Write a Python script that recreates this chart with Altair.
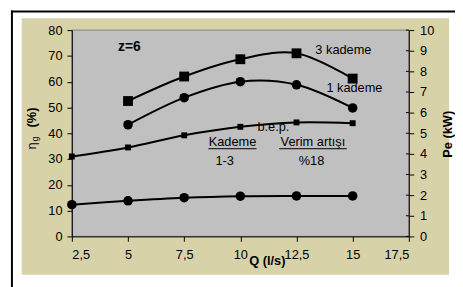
import altair as alt
import pandas as pd

# ---- data ----
q_all = [2.5, 5, 7.5, 10, 12.5, 15]
q_k = [5, 7.5, 10, 12.5, 15]
eta_3kademe = [52.5, 62.0, 68.7, 71.0, 61.2]
eta_1kademe = [43.3, 53.8, 60.0, 58.8, 49.8]
bep_line = [31.0, 34.5, 39.2, 42.5, 44.2, 43.9]
pe_line = [12.3, 13.8, 15.0, 15.6, 15.7, 15.7]

x_ticks = [2.5, 5, 7.5, 10, 12.5, 15, 17.5]
left_ticks = [0, 10, 20, 30, 40, 50, 60, 70, 80]
right_ticks = [0, 1, 2, 3, 4, 5, 6, 7, 8, 9, 10]

ann_text = ["3 kademe", "1 kademe", "b.e.p.", "Kademe", "Verim artışı", "1-3", "%18"]
ann_x = [13.34, 13.83, 10.76, 9.65, 13.23, 9.3, 13.17]
ann_y = [72.4, 57.5, 42.3, 36.6, 36.6, 29.3, 29.3]
ann_align = ["left", "left", "left", "center", "center", "center", "center"]

ul_x1 = [8.58, 11.73]
ul_x2 = [10.72, 14.74]
ul_y = [34.0, 34.0]

FONT = "Liberation Sans"
W, H = 343, 210

xs = alt.Scale(domain=[2.5, 17.5], nice=False, zero=False)
ys = alt.Scale(domain=[0, 80], nice=False, zero=True)

X = alt.X("q:Q", scale=xs, axis=alt.Axis(values=x_ticks, title=None,
          labelExpr="replace(toString(datum.value), '.', ',')",
          tickSize=5, labelPadding=7, zindex=2))
Y = alt.Y("v:Q", scale=ys, axis=alt.Axis(values=left_ticks, title=None,
          tickSize=5, labelPadding=5, zindex=2))

bg_df = pd.DataFrame({"k": [1]})

beige = alt.Chart(bg_df).mark_rect(color="#D8D2A8", opacity=1).encode(
    x=alt.value(-51), x2=alt.value(384), y=alt.value(-12), y2=alt.value(249))
gray = alt.Chart(bg_df).mark_rect(color="#C0C0C0", stroke="#808080", strokeWidth=1, opacity=1).encode(
    x=alt.value(0), x2=alt.value(W), y=alt.value(0), y2=alt.value(H))
frame_left = alt.Chart(bg_df).mark_rule(color="black", strokeWidth=2).encode(
    x=alt.value(-61), y=alt.value(-20), y2=alt.value(280))
frame_top = alt.Chart(bg_df).mark_rule(color="black", strokeWidth=2).encode(
    x=alt.value(-62), x2=alt.value(400), y=alt.value(-19))


def series(qs, vals, shape, size):
    df = pd.DataFrame({"q": qs, "v": vals})
    base = alt.Chart(df)
    line = base.mark_line(color="black", strokeWidth=2, interpolate="cardinal").encode(x=X, y=Y)
    pts = base.mark_point(shape=shape, size=size, filled=True, color="black", opacity=1).encode(x=X, y=Y)
    return line + pts


s3 = series(q_k, eta_3kademe, "square", 100)
s1 = series(q_k, eta_1kademe, "circle", 95)
sb = series(q_all, bep_line, "square", 36)
sp = series(q_all, pe_line, "circle", 95)

ann_df = pd.DataFrame({"t": ann_text, "q": ann_x, "v": ann_y, "a": ann_align})
ann_left = alt.Chart(ann_df[ann_df.a == "left"]).mark_text(
    font=FONT, fontSize=13, align="left", baseline="middle", color="black").encode(
    x=X, y=Y, text="t:N")
ann_center = alt.Chart(ann_df[ann_df.a == "center"]).mark_text(
    font=FONT, fontSize=13, align="center", baseline="middle", color="black").encode(
    x=X, y=Y, text="t:N")

ul_df = pd.DataFrame({"q": ul_x1, "q2": ul_x2, "v": ul_y})
underline = alt.Chart(ul_df).mark_rule(color="black", strokeWidth=1).encode(
    x=X, x2="q2:Q", y=Y)

z_df = pd.DataFrame({"t": ["z=6"], "q": [5.06], "v": [73.3]})
z_text = alt.Chart(z_df).mark_text(font=FONT, fontSize=14, fontWeight="bold",
                                   align="center", baseline="middle", color="black").encode(
    x=X, y=Y, text="t:N")


def ptext(txt, px, py, size=13, bold=False, angle=0):
    return alt.Chart(bg_df).mark_text(text=txt, font=FONT, fontSize=size,
                                      fontWeight="bold" if bold else "normal",
                                      align="center", baseline="middle", angle=angle,
                                      color="black").encode(x=alt.value(px), y=alt.value(py))


q_title = ptext("Q (l/s)", 199, 235, bold=True)
eta_t = ptext("η", -41, 118, size=13, angle=270)
g_t = ptext("g", -37, 111, size=9, angle=270)
pct_t = ptext("(%)", -40, 89, bold=True, angle=270)
pe_title = ptext("Pe (kW)", 383, 106, bold=True, angle=270)

inner = alt.layer(beige, gray, frame_left, frame_top, sp, sb, s1, s3,
                  ann_left, ann_center, underline, z_text,
                  q_title, eta_t, g_t, pct_t, pe_title)

pe_scale = alt.Scale(domain=[0, 10], nice=False)
right = alt.Chart(pd.DataFrame({"pe": right_ticks})).mark_rule(color="black", strokeWidth=1).encode(
    x=alt.value(W - 3), x2=alt.value(W),
    y=alt.Y("pe:Q", scale=pe_scale,
            axis=alt.Axis(orient="right", values=right_ticks, title=None,
                          tickSize=5, labelPadding=6, zindex=2)))

chart = alt.layer(inner, right).resolve_scale(y="independent").properties(
    width=W, height=H,
    autosize=alt.AutoSizeParams(type="none"),
    padding={"left": 65, "top": 20, "right": 47, "bottom": 49},
    background="white",
).configure_view(stroke=None).configure_axis(
    grid=False, domainColor="black", tickColor="black", labelColor="black",
    labelFont=FONT, labelFontSize=13, domainWidth=1, tickWidth=1,
)

chart.save("out.html", embed_options={"renderer": "svg", "actions": False})
